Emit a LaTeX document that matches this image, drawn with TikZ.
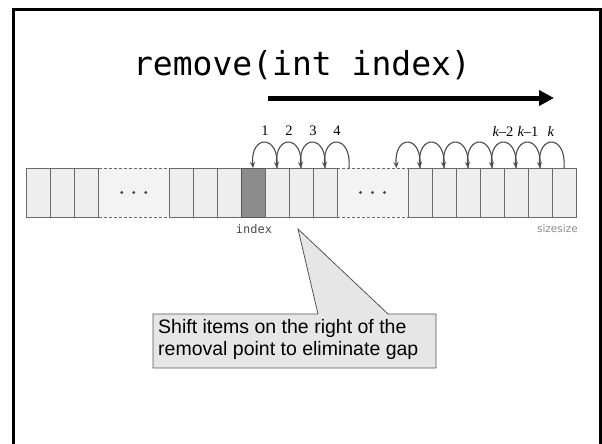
\documentclass[tikz,border=0pt]{standalone}
\usepackage{fontspec}
\setmainfont{Liberation Serif}
\newfontfamily\arialf{Liberation Sans}
\newfontfamily\monof{DejaVu Sans Mono}
\newfontfamily\dvs{DejaVu Sans}
\usetikzlibrary{arrows.meta}
\definecolor{cellfill}{HTML}{EEEEEE}
\definecolor{gapfill}{HTML}{F3F3F3}
\definecolor{cellline}{HTML}{6A6A6A}
\definecolor{idxfill}{HTML}{8C8C8C}
\definecolor{arcline}{HTML}{4A4A4A}
\definecolor{calloutfill}{HTML}{E6E6E6}
\definecolor{calloutline}{HTML}{555555}
\tikzset{
  cell/.style={draw=cellline, fill=cellfill, line width=0.9pt, minimum width=24pt, minimum height=49pt, inner sep=0pt, outer sep=0pt, anchor=west},
  gap/.style={fill=gapfill, minimum height=49pt, inner sep=0pt, outer sep=0pt, anchor=west},
  gapedge/.style={draw=cellline, line width=0.9pt, dash pattern=on 3pt off 2pt},
  shiftarc/.style={draw=arcline, line width=1.1pt, -{Stealth[length=6pt,width=5pt]}},
  numlabel/.style={font=\fontsize{14.5}{17}\selectfont, inner sep=0pt},
  dotmark/.style={fill=arcline, draw=none},
}
\begin{document}
\begin{tikzpicture}[x=1pt,y=-1pt]
\useasboundingbox (0,0) rectangle (602,444);
% slide frame
\draw[line width=3pt, black] (13,446) -- (13,10) -- (600.5,10) -- (600.5,446);
% title
\node[anchor=base, inner sep=0pt, font=\monof\fontsize{33}{36}\selectfont] (title) at (302,75) {remove(int index)};
% direction arrow
\coordinate (arrS) at (268,98);
\coordinate (arrE) at (554,98);
\draw[line width=5pt, -{Triangle[length=15pt,width=15pt]}] (arrS) -- (arrE);
% gaps
\node[gap, minimum width=70.5pt] (gapA) at (98.5,192.5) {};
\node[gap, minimum width=71pt] (gapB) at (337,192.5) {};
\draw[gapedge] (gapA.north west) -- (gapA.north east);
\draw[gapedge] (gapA.south west) -- (gapA.south east);
\draw[gapedge] (gapB.north west) -- (gapB.north east);
\draw[gapedge] (gapB.south west) -- (gapB.south east);
\foreach \g in {gapA,gapB}{
  \foreach \dx in {-12,0,12}{
    \fill[dotmark] ([xshift=\dx pt]\g.center) circle (1.6pt);
  }
}
% cells
\node[cell] (a1) at (26.5,192.5) {};
\node[cell] (a2) at (50.5,192.5) {};
\node[cell] (a3) at (74.5,192.5) {};
\node[cell] (b1) at (169,192.5) {};
\node[cell] (b2) at (193,192.5) {};
\node[cell] (b3) at (217,192.5) {};
\node[cell, fill=idxfill, draw=cellline!80!black] (idx) at (241,192.5) {};
\node[cell] (c1) at (265,192.5) {};
\node[cell] (c2) at (289,192.5) {};
\node[cell] (c3) at (313,192.5) {};
\node[cell] (d1) at (408,192.5) {};
\node[cell] (d2) at (432,192.5) {};
\node[cell] (d3) at (456,192.5) {};
\node[cell] (d4) at (480,192.5) {};
\node[cell] (d5) at (504,192.5) {};
\node[cell] (d6) at (528,192.5) {};
\node[cell] (d7) at (552,192.5) {};
% arc end points inside gaps
\coordinate (gA) at (349,168);
\coordinate (gB) at (396.5,168);
% shift arcs (left group)
\draw[shiftarc] (c1.north) .. controls +(3,-34) and +(-3,-34) .. (idx.north);
\draw[shiftarc] (c2.north) .. controls +(3,-34) and +(-3,-34) .. (c1.north);
\draw[shiftarc] (c3.north) .. controls +(3,-34) and +(-3,-34) .. (c2.north);
\draw[shiftarc] (gA) .. controls +(3,-34) and +(-3,-34) .. (c3.north);
% shift arcs (right group)
\draw[shiftarc] (d7.north) .. controls +(3,-34) and +(-3,-34) .. (d6.north);
\draw[shiftarc] (d6.north) .. controls +(3,-34) and +(-3,-34) .. (d5.north);
\draw[shiftarc] (d5.north) .. controls +(3,-34) and +(-3,-34) .. (d4.north);
\draw[shiftarc] (d4.north) .. controls +(3,-34) and +(-3,-34) .. (d3.north);
\draw[shiftarc] (d3.north) .. controls +(3,-34) and +(-3,-34) .. (d2.north);
\draw[shiftarc] (d2.north) .. controls +(3,-34) and +(-3,-34) .. (d1.north);
\draw[shiftarc] (d1.north) .. controls +(3,-34) and +(-3,-34) .. (gB);
% numbers
\node[numlabel] (n1) at (265,131) {1};
\node[numlabel] (n2) at (289,131) {2};
\node[numlabel] (n3) at (313,131) {3};
\node[numlabel] (n4) at (337,131) {4};
\node[numlabel] (nk2) at (503,131) {\textit{k}\kern-0.3pt–2};
\node[numlabel] (nk1) at (528,131) {\textit{k}\kern-0.3pt–1};
\node[numlabel] (nk) at (551,131) {\textit{k}};
% labels below
\node[inner sep=0pt, text=black!70, font=\monof\fontsize{12}{14}\selectfont] (idxlab) at (254,229) {index};
\node[inner sep=0pt, anchor=east, text=black!45, font=\dvs\fontsize{10.5}{12}\selectfont] (sizelab) at (578,229) {sizesize};
% callout
\coordinate (tip) at (298,229);
\draw[fill=calloutfill, draw=calloutline, line width=0.8pt]
  (153,314) -- (318,314) -- (tip) -- (388,314) -- (436,314) -- (436,368) -- (153,368) -- cycle;
\node[anchor=north west, inner sep=0pt, align=left, font=\arialf\fontsize{19.5}{22.5}\selectfont] (note) at (158,319)
  {Shift items on the right of the\\removal point to eliminate gap};
\end{tikzpicture}
\end{document}
